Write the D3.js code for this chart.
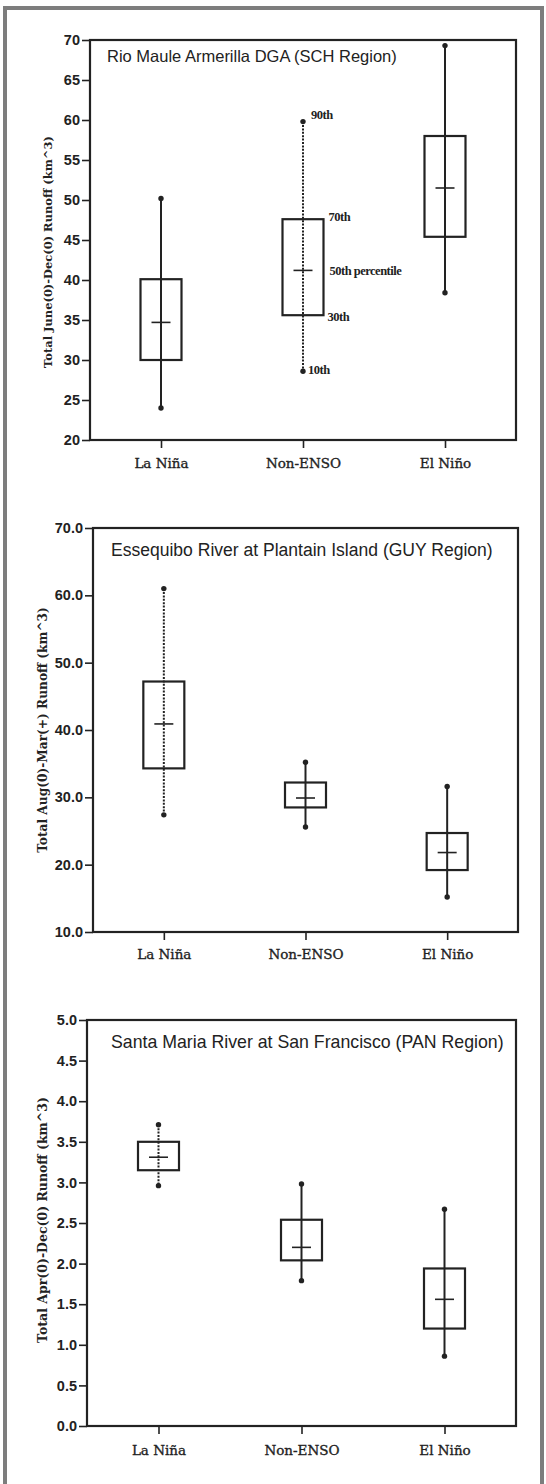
<!DOCTYPE html>
<html><head><meta charset="utf-8">
<script src="https://cdn.jsdelivr.net/npm/d3@7"></script>
<style>
html,body{margin:0;padding:0;background:#fff;}
svg{display:block;}
</style></head>
<body>
<svg id="chart" width="546" height="1484"></svg>
<script>
// ---------- DATA ----------
const categories = ["La Niña", "Non-ENSO", "El Niño"];

// Panel 1: Rio Maule Armerilla DGA (SCH Region)
const schTitle = "Rio Maule Armerilla DGA (SCH Region)";
const schYLabel = "Total June(0)-Dec(0) Runoff (km^3)";
const schTicks = [20, 25, 30, 35, 40, 45, 50, 55, 60, 65, 70];
const schP10 = [24.0, 28.6, 38.4];
const schP30 = [30.0, 35.6, 45.4];
const schP50 = [34.7, 41.2, 51.5];
const schP70 = [40.1, 47.6, 58.0];
const schP90 = [50.2, 59.8, 69.3];

// Panel 2: Essequibo River at Plantain Island (GUY Region)
const guyTitle = "Essequibo River at Plantain Island (GUY Region)";
const guyYLabel = "Total Aug(0)-Mar(+) Runoff (km^3)";
const guyTicks = [10, 20, 30, 40, 50, 60, 70];
const guyP10 = [27.4, 25.6, 15.2];
const guyP30 = [34.3, 28.5, 19.2];
const guyP50 = [40.9, 29.9, 21.8];
const guyP70 = [47.2, 32.2, 24.7];
const guyP90 = [61.0, 35.2, 31.6];

// Panel 3: Santa Maria River at San Francisco (PAN Region)
const panTitle = "Santa Maria River at San Francisco (PAN Region)";
const panYLabel = "Total Apr(0)-Dec(0) Runoff (km^3)";
const panTicks = [0, 0.5, 1.0, 1.5, 2.0, 2.5, 3.0, 3.5, 4.0, 4.5, 5.0];
const panP10 = [2.96, 1.79, 0.86];
const panP30 = [3.15, 2.04, 1.20];
const panP50 = [3.31, 2.20, 1.56];
const panP70 = [3.50, 2.54, 1.94];
const panP90 = [3.71, 2.98, 2.67];

// percentile annotation labels (panel 1, Non-ENSO)
const annotLabels = ["90th", "70th", "50th percentile", "30th", "10th"];

// ---------- LAYOUT / STYLE ----------
const ink = "#222";
const svg = d3.select("#chart");

function fitFont(sel, target, base) {
  sel.style("font-size", base + "px");
  const w = sel.node().getComputedTextLength();
  const fs = base * target / w;
  sel.style("font-size", fs + "px");
  return fs;
}

const panels = [
  {title: schTitle, ylab: schYLabel, ticks: schTicks, fmt: d3.format("d"), dom: [20, 70],
   p10: schP10, p30: schP30, p50: schP50, p70: schP70, p90: schP90, dotted: 1,
   box: {l: 90, r: 516, t: 40, b: 440},
   titlePos: {x: 107, y: 62, w: 290},
   ylabPos: {x: 48, y: 252, w: 232},
   catY: 468, annot: true},
  {title: guyTitle, ylab: guyYLabel, ticks: guyTicks, fmt: d3.format(".1f"), dom: [10, 70],
   p10: guyP10, p30: guyP30, p50: guyP50, p70: guyP70, p90: guyP90, dotted: 0,
   box: {l: 93, r: 518, t: 528, b: 932},
   titlePos: {x: 111, y: 556, w: 382},
   ylabPos: {x: 43, y: 730, w: 246},
   catY: 959, annot: false},
  {title: panTitle, ylab: panYLabel, ticks: panTicks, fmt: d3.format(".1f"), dom: [0, 5],
   p10: panP10, p30: panP30, p50: panP50, p70: panP70, p90: panP90, dotted: 0,
   box: {l: 87, r: 516, t: 1020, b: 1426},
   titlePos: {x: 111, y: 1048, w: 393},
   ylabPos: {x: 43, y: 1220, w: 246},
   catY: 1455, annot: false}
];

// outer frame (scanned page border)
svg.append("path")
  .attr("d", "M5,1484 L5,8 L542,8 L542,1484")
  .attr("fill", "none").attr("stroke", "#7d7d7d").attr("stroke-width", 4);

panels.forEach(p => {
  const g = svg.append("g");
  const B = p.box;
  const y = d3.scaleLinear().domain(p.dom).range([B.b, B.t]);
  const x = d3.scalePoint().domain(categories).range([B.l, B.r]).padding(0.5);

  // frame
  g.append("rect").attr("x", B.l).attr("y", B.t)
    .attr("width", B.r - B.l).attr("height", B.b - B.t)
    .attr("fill", "none").attr("stroke", ink).attr("stroke-width", 2.2);

  // y axis
  const ya = g.append("g").attr("transform", `translate(${B.l},0)`)
    .call(d3.axisLeft(y).tickValues(p.ticks).tickFormat(p.fmt).tickSize(8).tickPadding(2));
  ya.select(".domain").remove();
  ya.selectAll("line").attr("stroke", ink).attr("stroke-width", 1.6);
  ya.selectAll("text").attr("fill", ink)
    .style("font-family", "'Liberation Sans', Arial, sans-serif")
    .style("font-weight", "bold").style("font-size", "14.5px");

  // x axis
  const xa = g.append("g").attr("transform", `translate(0,${B.b})`)
    .call(d3.axisBottom(x).tickSize(8).tickPadding(6));
  xa.select(".domain").remove();
  xa.selectAll("line").attr("stroke", ink).attr("stroke-width", 1.6);
  xa.selectAll("text").attr("fill", ink)
    .attr("y", p.catY - B.b).attr("dy", 0)
    .attr("stroke", ink).attr("stroke-width", 0.35)
    .style("font-family", "'DejaVu Serif', 'Liberation Serif', serif")
    .style("font-size", "13.5px");

  // title
  const t = g.append("text").attr("x", p.titlePos.x).attr("y", p.titlePos.y)
    .attr("fill", ink).style("font-family", "'Liberation Sans', Arial, sans-serif")
    .text(p.title);
  fitFont(t, p.titlePos.w, 16);

  // y label
  const yl = g.append("text")
    .attr("transform", `translate(${p.ylabPos.x},${p.ylabPos.y}) rotate(-90)`)
    .attr("text-anchor", "middle").attr("dy", "0.35em")
    .attr("fill", ink).style("font-family", "'DejaVu Serif', 'Liberation Serif', serif")
    .style("font-weight", "bold")
    .text(p.ylab);
  fitFont(yl, p.ylabPos.w, 12);

  // boxes
  const bw = 41, mw = 19;
  categories.forEach((c, i) => {
    const cx = x(c);
    const dotted = (i === p.dotted);
    const bg = g.append("g");
    bg.append("line").attr("x1", cx).attr("x2", cx)
      .attr("y1", y(p.p90[i])).attr("y2", y(p.p10[i]))
      .attr("stroke", ink).attr("stroke-width", dotted ? 2 : 2)
      .attr("stroke-dasharray", dotted ? "2,1.4" : null);
    bg.append("rect").attr("x", cx - bw / 2).attr("y", y(p.p70[i]))
      .attr("width", bw).attr("height", y(p.p30[i]) - y(p.p70[i]))
      .attr("fill", "none").attr("stroke", ink).attr("stroke-width", 2.2);
    bg.append("line").attr("x1", cx - mw / 2).attr("x2", cx + mw / 2)
      .attr("y1", y(p.p50[i])).attr("y2", y(p.p50[i]))
      .attr("stroke", ink).attr("stroke-width", 1.6);
    [p.p90[i], p.p10[i]].forEach(v => {
      bg.append("circle").attr("cx", cx).attr("cy", y(v)).attr("r", 2.7).attr("fill", ink);
    });

    if (p.annot && dotted) {
      const vals = [p.p90[i], p.p70[i], p.p50[i], p.p30[i], p.p10[i]];
      const dx = [8, bw / 2 + 5, bw / 2 + 6, bw / 2 + 4, 5];
      const dy = [-3, 2, 4.5, 5.5, 2.5];
      annotLabels.forEach((lab, k) => {
        g.append("text").attr("x", cx + dx[k]).attr("y", y(vals[k]) + dy[k])
          .attr("fill", ink)
          .style("font-family", "'Liberation Serif', 'Times New Roman', serif")
          .style("font-weight", "bold").style("font-size", "12.5px")
          .style("letter-spacing", "-0.5px")
          .text(lab);
      });
    }
  });
});
</script>
</body></html>
